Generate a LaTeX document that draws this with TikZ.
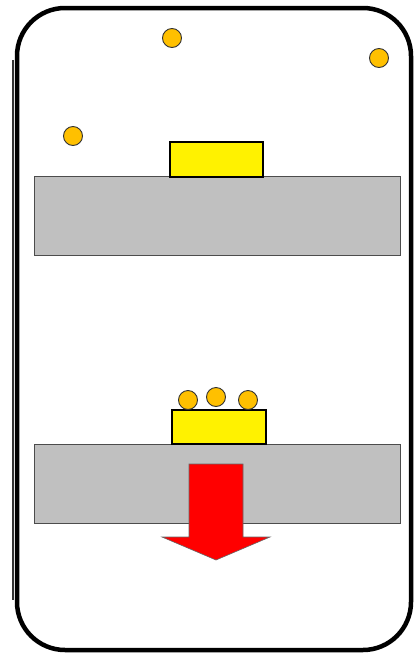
\documentclass[tikz,border=0pt]{standalone}
\definecolor{ballcol}{RGB}{255,192,0}
\definecolor{platecol}{RGB}{192,192,192}
\begin{document}
\begin{tikzpicture}[x=1pt,y=-1pt,
  plate/.style={draw=black!70,fill=platecol,line width=1pt},
  chip/.style={draw=black,fill=yellow,line width=1.4pt},
  ball/.style={circle,draw=black!80,fill=ballcol,line width=0.9pt,minimum size=19pt,inner sep=0pt},
  frame/.style={draw=black,line width=4.5pt,rounded corners=48pt}]
\useasboundingbox (0,0) rectangle (416,659);
\fill[white] (0,0) rectangle (416,659);
\draw[frame] (17,8) rectangle (411,650);
\draw[black!80,line width=1.2pt] (13,60) -- (13,600);
% top
\draw[plate] (34,176) rectangle (400,255);
\draw[chip] (170,142) rectangle (263,177);
\node[ball] (b1) at (172,38) {};
\node[ball] (b2) at (379,58) {};
\node[ball] (b3) at (73,136) {};
% bottom
\draw[plate] (34,444) rectangle (400,523);
\draw[chip] (172,410) rectangle (266,444);
\node[ball] (b4) at (188,400) {};
\node[ball] (b5) at (216,397) {};
\node[ball] (b6) at (248,400) {};
\draw[fill=red,draw=black!60,line width=0.6pt] (189,464) -- (243,464) -- (243,537) -- (270,537) -- (216,560) -- (162,537) -- (189,537) -- cycle;
\end{tikzpicture}
\end{document}
